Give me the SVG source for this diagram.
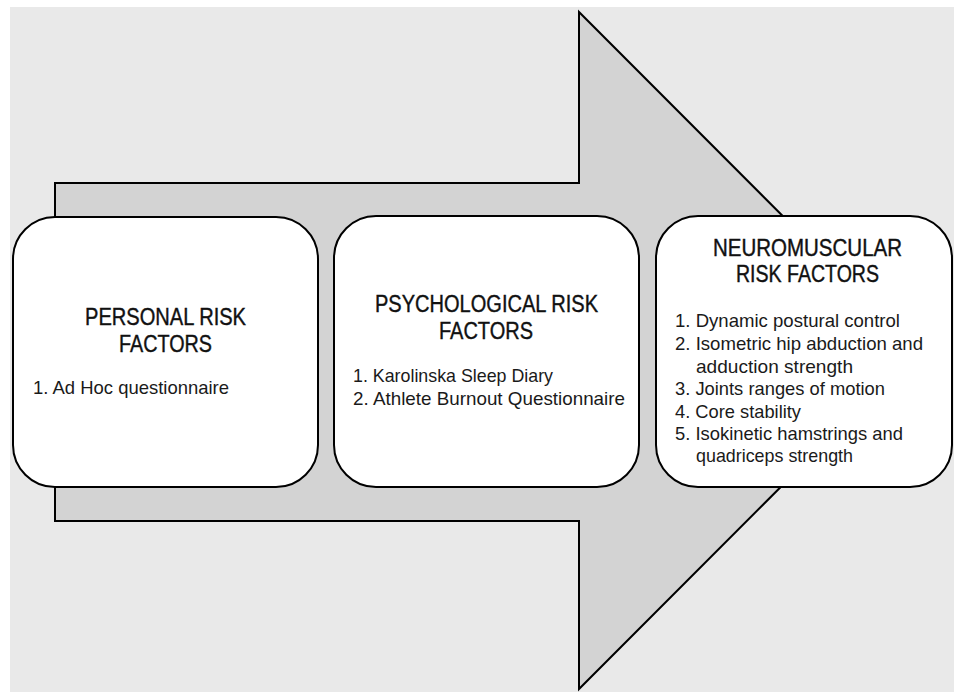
<svg xmlns="http://www.w3.org/2000/svg" width="954" height="692" viewBox="0 0 954 692">
<style>
.box{fill:#ffffff;stroke:#000;stroke-width:2}
.t{font-family:"Liberation Sans",Arial,sans-serif;font-size:23.5px;fill:#111;stroke:#111;stroke-width:0.4;text-anchor:middle}
.i{font-family:"Liberation Sans",Arial,sans-serif;font-size:19px;fill:#1a1a1a}
</style>
<rect x="0" y="0" width="954" height="692" fill="#ffffff"/>
<rect x="10" y="7" width="944" height="685" fill="#e9e9e9"/>
<g id="arrow">
<path d="M55,183 L579,183 L579,12 L917,350.5 L579,689 L579,521 L55,521 Z" fill="#d3d3d3" stroke="#000" stroke-width="2" stroke-linejoin="miter"/>
</g>
<g id="node-personal">
<rect class="box" x="13" y="217" width="305" height="270" rx="42" ry="42"/>
<text class="t" x="165.5" y="325" textLength="161" lengthAdjust="spacingAndGlyphs">PERSONAL RISK</text>
<text class="t" x="165.5" y="352" textLength="93" lengthAdjust="spacingAndGlyphs">FACTORS</text>
<text class="i" x="33" y="394" textLength="196" lengthAdjust="spacingAndGlyphs">1. Ad Hoc questionnaire</text>
</g>
<g id="node-psychological">
<rect class="box" x="334" y="216" width="305" height="271" rx="42" ry="42"/>
<text class="t" x="486.5" y="312" textLength="223" lengthAdjust="spacingAndGlyphs">PSYCHOLOGICAL RISK</text>
<text class="t" x="486" y="339" textLength="94" lengthAdjust="spacingAndGlyphs">FACTORS</text>
<text class="i" x="353" y="382" textLength="200" lengthAdjust="spacingAndGlyphs">1. Karolinska Sleep Diary</text>
<text class="i" x="353" y="405" textLength="272" lengthAdjust="spacingAndGlyphs">2. Athlete Burnout Questionnaire</text>
</g>
<g id="node-neuromuscular">
<rect class="box" x="656" y="216" width="296" height="271" rx="42" ry="42"/>
<text class="t" x="807.5" y="256" textLength="189" lengthAdjust="spacingAndGlyphs">NEUROMUSCULAR</text>
<text class="t" x="807.5" y="282" textLength="143" lengthAdjust="spacingAndGlyphs">RISK FACTORS</text>
<text class="i" x="675" y="327" textLength="225" lengthAdjust="spacingAndGlyphs">1. Dynamic postural control</text>
<text class="i" x="675" y="350" textLength="248" lengthAdjust="spacingAndGlyphs">2. Isometric hip abduction and</text>
<text class="i" x="696" y="373" textLength="157" lengthAdjust="spacingAndGlyphs">adduction strength</text>
<text class="i" x="675" y="395" textLength="210" lengthAdjust="spacingAndGlyphs">3. Joints ranges of motion</text>
<text class="i" x="675" y="418" textLength="126" lengthAdjust="spacingAndGlyphs">4. Core stability</text>
<text class="i" x="675" y="440" textLength="228" lengthAdjust="spacingAndGlyphs">5. Isokinetic hamstrings and</text>
<text class="i" x="696" y="462" textLength="157" lengthAdjust="spacingAndGlyphs">quadriceps strength</text>
</g>
<g id="connectors"></g>
</svg>
